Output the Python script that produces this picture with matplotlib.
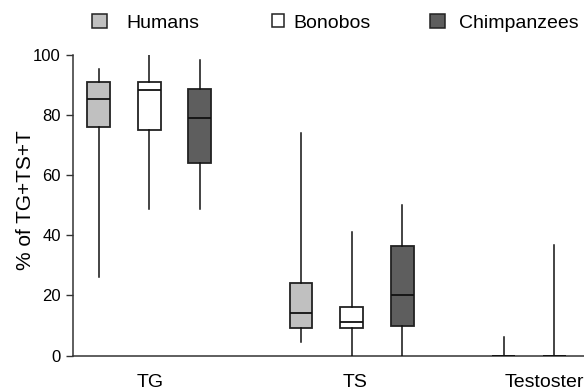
import matplotlib
matplotlib.use("Agg")
import matplotlib.pyplot as plt
from matplotlib.patches import Patch

plt.rcParams["font.family"] = ["Liberation Sans", "DejaVu Sans"]

groups = ["TG", "TS", "Testosterone"]
species = ["Humans", "Bonobos", "Chimpanzees"]
colors = ["#c0c0c0", "#ffffff", "#5e5e5e"]

# box stats per species, one value per group (TG, TS, Testosterone)
whislo = {
    "Humans": [26.0, 4.5, 0.0],
    "Bonobos": [48.7, 0.0, 0.0],
    "Chimpanzees": [48.7, 0.0, 0.0],
}
q1 = {
    "Humans": [76.0, 9.3, 0.0],
    "Bonobos": [75.2, 9.3, 0.0],
    "Chimpanzees": [63.9, 9.8, 0.0],
}
med = {
    "Humans": [85.3, 14.2, 0.0],
    "Bonobos": [88.3, 11.1, 0.0],
    "Chimpanzees": [79.2, 20.2, 0.0],
}
q3 = {
    "Humans": [91.0, 24.1, 0.0],
    "Bonobos": [91.0, 16.0, 0.0],
    "Chimpanzees": [88.8, 36.3, 0.0],
}
whishi = {
    "Humans": [95.3, 74.0, 6.0],
    "Bonobos": [100.0, 41.0, 36.7],
    "Chimpanzees": [98.3, 50.2, 5.0],
}

fig = plt.figure(figsize=(5.84, 3.9), dpi=100)
ax = fig.add_axes([73.3 / 584, 34.5 / 390, 510.7 / 584, 300.5 / 390])

for s, sp in enumerate(species):
    stats = []
    for g in range(len(groups)):
        stats.append(dict(whislo=whislo[sp][g], q1=q1[sp][g], med=med[sp][g],
                          q3=q3[sp][g], whishi=whishi[sp][g], fliers=[]))
    pos = [g * 4 + s for g in range(len(groups))]
    ax.bxp(stats, positions=pos, widths=0.45, showcaps=False, showfliers=False,
           patch_artist=True,
           boxprops=dict(facecolor=colors[s], edgecolor="#222222", linewidth=1.3),
           medianprops=dict(color="#111111", linewidth=1.3),
           whiskerprops=dict(color="#111111", linewidth=1.1),
           manage_ticks=False, zorder=3)

ax.set_xlim(-0.5, 9.59)
ax.set_ylim(0, 100)
# group labels sit slightly right of the middle box, drifting a bit per group
ax.set_xticks([g * 4.06 + 1.01 for g in range(len(groups))])
ax.set_xticklabels(groups, fontsize=14)
ax.set_yticks([0, 20, 40, 60, 80, 100])
ax.tick_params(axis="y", labelsize=12, length=5, width=1, color="#333333", pad=4)
ax.tick_params(axis="x", length=0, pad=13)
ax.set_ylabel("% of TG+TS+T", fontsize=15, labelpad=-1.5, y=0.517)
for side in ["top", "right"]:
    ax.spines[side].set_visible(False)
for side in ["left", "bottom"]:
    ax.spines[side].set_color("#333333")
    ax.spines[side].set_linewidth(1.1)

# legend entries placed one by one (uneven spacing in the original)
leg_x = [92 / 584, 272 / 584, 430 / 584]
leg_size = [0.77, 0.62, 0.77]
leg_pad = [1.0, 0.5, 0.7]
for s, sp in enumerate(species):
    h = Patch(facecolor=colors[s], edgecolor="#222222", linewidth=1.1)
    lg = fig.legend([h], [sp], loc="center left", bbox_to_anchor=(leg_x[s], 1 - 23 / 390),
                    frameon=False, fontsize=14, handlelength=leg_size[s],
                    handleheight=leg_size[s], handletextpad=leg_pad[s],
                    borderpad=0, borderaxespad=0)

fig.savefig("out.png", dpi=100)
